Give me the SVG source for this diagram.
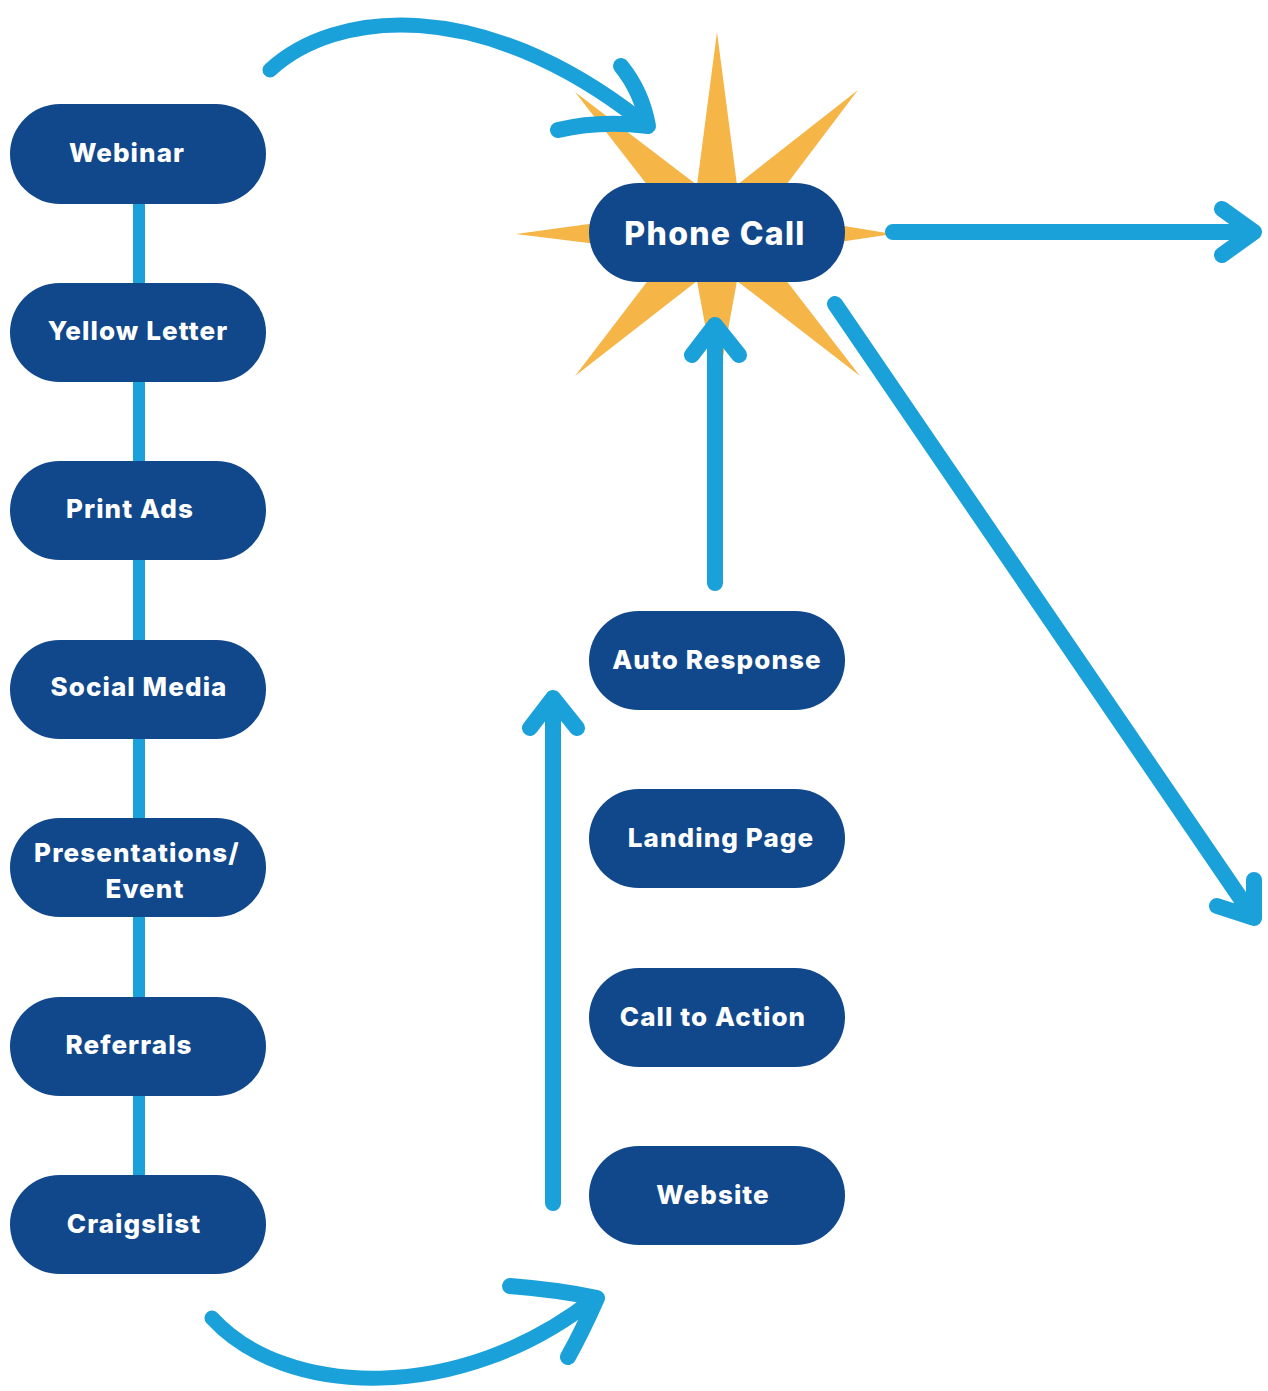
<svg xmlns="http://www.w3.org/2000/svg" width="1268" height="1391" viewBox="0 0 1268 1391">
<style>
.node rect{fill:#11488B}
.node text{fill:#ffffff;font-family:Inter,"Noto Sans",sans-serif;font-weight:800;font-size:26px;text-anchor:middle;letter-spacing:1.1px}
.big text{font-size:32px;letter-spacing:1.3px}
.ln{stroke:#1BA1DA;fill:none;stroke-linecap:round;stroke-linejoin:round}
</style>
<rect width="1268" height="1391" fill="#ffffff"/>
<g id="star">
<polygon fill="#F5B547" points="717,32 737,185 858,90 765,213 893,234 765,253 860,376 737,281 717,390 697,281 575,376 669,253 516,234 669,213 575,92 697,185"/>
</g>
<g id="connectors">
<line x1="139" y1="150" x2="139" y2="1225" stroke="#1BA1DA" stroke-width="12"/>
<path class="ln" d="M 270 70 C 335 10, 480 -5, 640 120" stroke-width="15"/>
<path class="ln" d="M 621 66 Q 642 92 648 126 Q 600 120 558 130" stroke-width="16"/>
<path class="ln" d="M 212 1318 C 285 1398, 460 1405, 595 1298" stroke-width="15"/>
<path class="ln" d="M 510 1286 Q 560 1290 597 1298 Q 582 1332 568 1357" stroke-width="16"/>
<path class="ln" d="M 893 232 L 1254 232 M 1222 209 L 1254 232 L 1222 255" stroke-width="16"/>
<path class="ln" d="M 835 304 L 1254 918 M 1254 880 L 1254 918 L 1217 906" stroke-width="16"/>
<path class="ln" d="M 715 583 L 715 325 M 692 355 L 715 325 L 739 355" stroke-width="16"/>
<path class="ln" d="M 553 1203 L 553 698 M 530 728 L 553 698 L 577 728" stroke-width="16"/>
</g>
<g id="webinar" class="node"><rect x="10" y="104" width="256" height="100" rx="50"/><text x="127" y="162">Webinar</text></g>
<g id="yellow-letter" class="node"><rect x="10" y="283" width="256" height="99" rx="49.5"/><text x="138" y="340">Yellow Letter</text></g>
<g id="print-ads" class="node"><rect x="10" y="461" width="256" height="99" rx="49.5"/><text x="130" y="518">Print Ads</text></g>
<g id="social-media" class="node"><rect x="10" y="640" width="256" height="99" rx="49.5"/><text x="139" y="696">Social Media</text></g>
<g id="presentations" class="node"><rect x="10" y="818" width="256" height="99" rx="49.5"/><text x="137" y="862">Presentations/</text><text x="145" y="898">Event</text></g>
<g id="referrals" class="node"><rect x="10" y="997" width="256" height="99" rx="49.5"/><text x="129" y="1054">Referrals</text></g>
<g id="craigslist" class="node"><rect x="10" y="1175" width="256" height="99" rx="49.5"/><text x="134" y="1233">Craigslist</text></g>
<g id="phone-call" class="node big"><rect x="589" y="183" width="256" height="99" rx="49.5"/><text x="715" y="245">Phone Call</text></g>
<g id="auto-response" class="node"><rect x="589" y="611" width="256" height="99" rx="49.5"/><text x="717" y="669">Auto Response</text></g>
<g id="landing-page" class="node"><rect x="589" y="789" width="256" height="99" rx="49.5"/><text x="721" y="847">Landing Page</text></g>
<g id="call-to-action" class="node"><rect x="589" y="968" width="256" height="99" rx="49.5"/><text x="713" y="1026">Call to Action</text></g>
<g id="website" class="node"><rect x="589" y="1146" width="256" height="99" rx="49.5"/><text x="713" y="1204">Website</text></g>
</svg>
